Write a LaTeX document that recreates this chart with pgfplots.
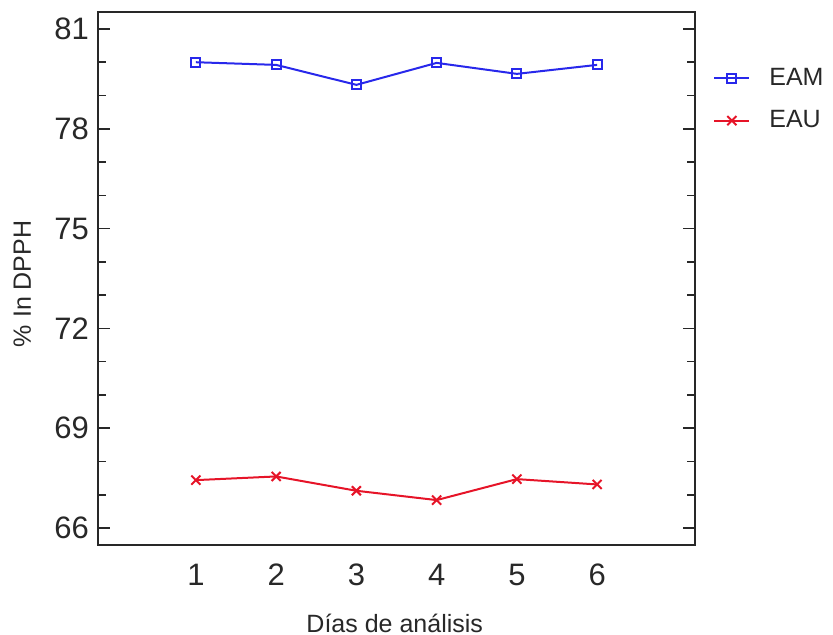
\documentclass[border=0pt]{standalone}
\usepackage{pgfplots}
\pgfplotsset{compat=1.18}
\usepackage{fontspec}
\setmainfont{Liberation Sans}
\definecolor{eamblue}{RGB}{40,40,235}
\definecolor{eaured}{RGB}{230,20,40}
\definecolor{axgray}{RGB}{40,40,40}

\begin{document}
\begin{tikzpicture}
\useasboundingbox (-49pt,-45pt) rectangle (367.5pt,272.5pt);
\begin{axis}[
  anchor=south west, at={(0pt,0pt)},
  scale only axis,
  width=298.5pt, height=266.5pt,
  xmin=-0.22, xmax=7.22,
  ymin=65.49, ymax=81.51,
  xtick={1,2,3,4,5,6},
  ytick={66,69,72,75,78,81},
  minor ytick={67,68,70,71,73,74,76,77,79,80},
  tick align=inside,
  xtick style={draw=none},
  major tick length=6pt, minor tick length=4pt,
  every tick/.style={axgray, line width=0.8pt},
  axis line style={axgray, line width=1pt},
  ytick pos=both,
  /pgf/number format/assume math mode=true,
  tick label style={font=\fontsize{15.5}{17}\selectfont, text=axgray},
  xticklabel style={yshift=-6pt},
  yticklabel style={xshift=-1pt},
  xlabel={Días de análisis},
  ylabel={\% In DPPH},
  label style={font=\fontsize{12.5}{14}\selectfont, text=axgray},
  xlabel style={at={(axis description cs:0.497,0)}, anchor=center, yshift=-39pt},
  ylabel style={at={(axis description cs:-0.127,0.49)}, anchor=center},
  legend style={at={(rel axis cs:1.02,0.91)}, anchor=north west, draw=none,
    fill=none, font=\fontsize{12.5}{14}\selectfont, text=axgray,
    row sep=7pt, legend cell align=left},
  legend image code/.code={
    \draw[#1] (0pt,0pt) -- (17.5pt,0pt);
    \draw[#1, only marks] plot coordinates {(8.75pt,0pt)};
    \path (25pt,0pt);
  },
]
\addplot[eamblue, line width=1pt, mark=square, mark size=2.2pt,
  mark options={line width=1pt}] coordinates
  {(1,80.00) (2,79.92) (3,79.32) (4,79.98) (5,79.65) (6,79.92)};
\addlegendentry{EAM}
\addplot[eaured, line width=1pt, mark=x, mark size=3.2pt,
  mark options={line width=1pt}] coordinates
  {(1,67.44) (2,67.55) (3,67.12) (4,66.84) (5,67.47) (6,67.31)};
\addlegendentry{EAU}
\end{axis}
\end{tikzpicture}
\end{document}
